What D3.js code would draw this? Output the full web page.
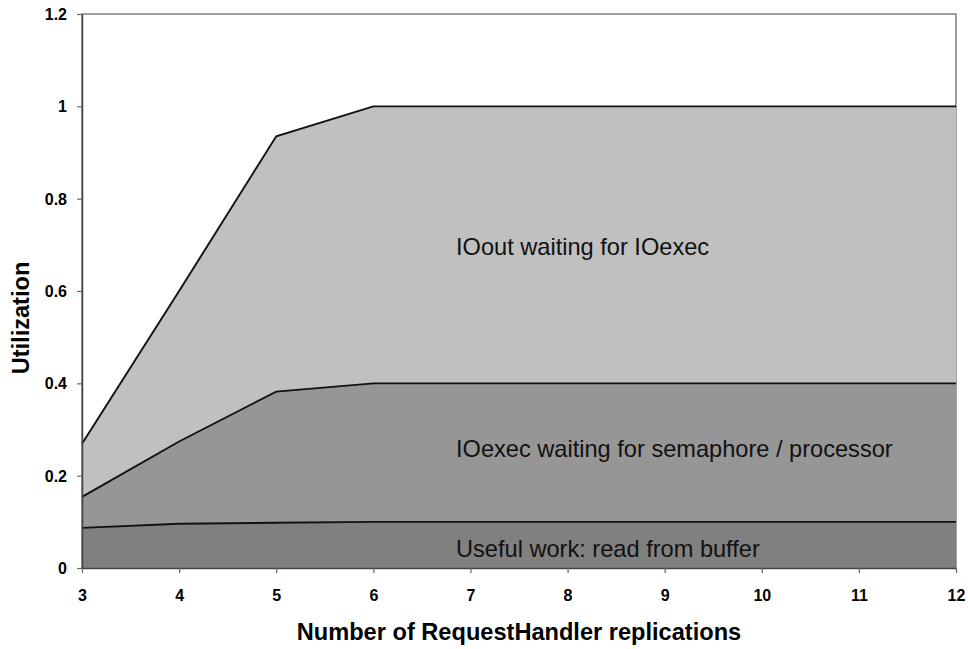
<!DOCTYPE html>
<html><head><meta charset="utf-8">
<script src="https://cdn.jsdelivr.net/npm/d3@7"></script>
<style>body{margin:0;background:#fff}svg{display:block}</style>
</head><body>
<svg id="c" width="968" height="649"></svg>
<script>
const replications = [3,4,5,6,7,8,9,10,11,12];
const usefulWork   = [0.087,0.096,0.098,0.100,0.100,0.100,0.100,0.100,0.100,0.100];
const ioexecWait   = [0.067,0.178,0.284,0.300,0.300,0.300,0.300,0.300,0.300,0.300];
const iooutWait    = [0.115,0.326,0.553,0.600,0.600,0.600,0.600,0.600,0.600,0.600];
const yTicks = [0,0.2,0.4,0.6,0.8,1,1.2];
const seriesNames = ["Useful work: read from buffer","IOexec waiting for semaphore / processor","IOout waiting for IOexec"];
const colors = ["#808080","#969696","#c0c0c0"];

const svg = d3.select("#c");
const L=82, R=956, T=14, B=568;
const x = d3.scaleLinear().domain([3,12]).range([L,R]);
const y = d3.scaleLinear().domain([0,1.2]).range([B,T]);

const rows = replications.map((r,i)=>({r, a:usefulWork[i], b:ioexecWait[i], c:iooutWait[i]}));
const stack = d3.stack().keys(["a","b","c"])(rows);

svg.append("rect").attr("x",L).attr("y",T).attr("width",R-L).attr("height",B-T)
  .attr("fill","#fff").attr("stroke","#808080").attr("stroke-width",1.5);

const area = d3.area().x(d=>x(d.data.r)).y0(d=>y(d[0])).y1(d=>y(d[1]));
const line = d3.line().x(d=>x(d.data.r)).y(d=>y(d[1]));
svg.selectAll(".area").data(stack).join("path").attr("d",area).attr("fill",(d,i)=>colors[i]);
svg.selectAll(".ln").data(stack).join("path").attr("d",line).attr("fill","none")
  .attr("stroke","#111").attr("stroke-width",1.9);

const xa = svg.append("g").attr("transform",`translate(0,${B})`)
  .call(d3.axisBottom(x).tickValues(replications).tickFormat(d3.format("d")).tickSize(5).tickSizeOuter(0));
const ya = svg.append("g").attr("transform",`translate(${L},0)`)
  .call(d3.axisLeft(y).tickValues(yTicks).tickFormat(d=>d3.format("")(+d.toFixed(1))).tickSize(5).tickSizeOuter(0));
[xa,ya].forEach(g=>{
  g.select(".domain").attr("stroke","#444").attr("stroke-width",1.5);
  g.selectAll(".tick line").attr("stroke","#666").attr("stroke-width",1.2);
  g.selectAll("text").attr("font-family","Liberation Sans, Arial, sans-serif")
    .attr("font-weight","bold").attr("font-size","16px").attr("fill","#000");
});
xa.selectAll("text").attr("dy",null).attr("y",33);
ya.selectAll("text").attr("x",-15).attr("dy","0.35em");

svg.append("text").attr("x",(L+R)/2).attr("y",640).attr("text-anchor","middle")
  .attr("font-family","Liberation Sans, Arial, sans-serif").attr("font-weight","bold")
  .attr("font-size","23.6px").text("Number of RequestHandler replications");
svg.append("text").attr("transform",`translate(29,318) rotate(-90)`).attr("text-anchor","middle")
  .attr("font-family","Liberation Sans, Arial, sans-serif").attr("font-weight","bold")
  .attr("font-size","23.6px").text("Utilization");

const labelPos = [[456,557],[456,457],[456,255]];
seriesNames.forEach((n,i)=>{
  svg.append("text").attr("x",labelPos[i][0]).attr("y",labelPos[i][1])
    .attr("font-family","Liberation Sans, Arial, sans-serif").attr("font-size","23.6px")
    .attr("fill","#111").text(n);
});
</script>
</body></html>
